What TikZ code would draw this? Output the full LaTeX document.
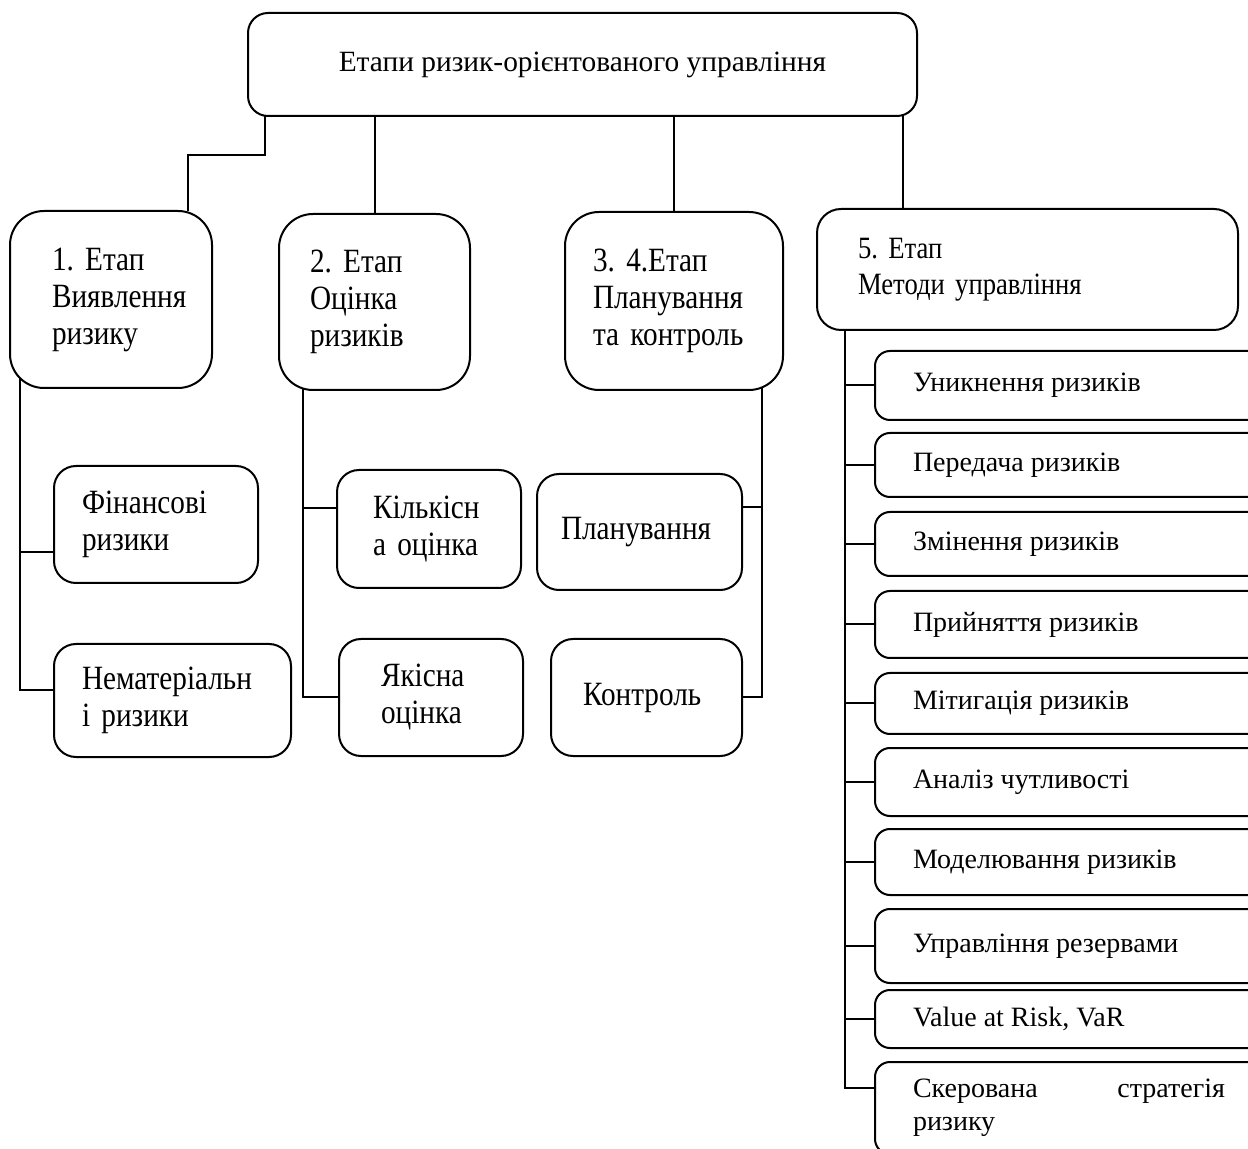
\documentclass[tikz,border=0pt]{standalone}
\usepackage{fontspec}
\setmainfont{Liberation Serif}
\newfontfamily\narrowfont{Liberation Serif}[FakeStretch=0.86, WordSpace=0.8]
\frenchspacing

\begin{document}
\begin{tikzpicture}[x=0.5pt, y=-0.5pt,
    box/.style={draw, line width=1pt, outer sep=0pt, anchor=north west, align=left,
        font=\narrowfont\fontsize{17}{18.5}\selectfont},
    stage/.style={box, rounded corners=17pt},
    sub/.style={box, rounded corners=11pt},
    item/.style={box, rounded corners=7.5pt, inner xsep=19pt, text width=156pt,
        align=justify, font=\rmfamily\fontsize{14}{16.5}\selectfont},
    link/.style={line width=1pt}]

        \useasboundingbox (0,0) rectangle (1248,1149);
        \clip (0,0) rectangle (1248,1149);

        % 1. Головний блок
        \node[box, rounded corners=10pt, align=center, minimum width=334.5pt, minimum height=51.5pt,
            font=\rmfamily\fontsize{14.7}{18}\selectfont]
            (title) at (248,13) {Етапи ризик-орієнтованого управління};

        % 2. Етапи
        \node[stage, inner xsep=21pt, text width=59pt, minimum height=88.5pt]
            (etap1) at (10,211) {1. Етап\\Виявлення\\ризику};
        \node[stage, inner xsep=15.5pt, text width=64.5pt, minimum height=88pt]
            (etap2) at (279,214) {2. Етап\\Оцінка\\ризиків};
        \node[stage, inner xsep=14pt, text width=81pt, minimum height=89pt]
            (etap34) at (565,212) {3. 4.Етап\\Планування\\та контроль};
        \node[stage, rounded corners=12pt, inner xsep=20.5pt, text width=169.5pt, minimum height=60.5pt,
            font=\narrowfont\fontsize{15.5}{18}\selectfont]
            (etap5) at (817,209) {5. Етап\\Методи управління};

        % 3. Підблоки етапів 1--4
        \node[sub, inner xsep=14pt, text width=74pt, minimum height=58.5pt]
            (fin) at (54,466) {Фінансові\\ризики};
        \node[sub, inner xsep=14pt, text width=90.5pt, minimum height=56.5pt]
            (nemat) at (54,644) {Нематеріальн\\і ризики};
        \node[sub, inner xsep=18pt, text width=56pt, minimum height=59pt]
            (kilk) at (337,470) {Кількісн\\а оцінка};
        \node[sub, inner xsep=21pt, text width=50pt, minimum height=58.5pt]
            (yak) at (339,639) {Якісна\\оцінка};
        \node[sub, inner xsep=12pt, text width=78.5pt, minimum height=58pt]
            (plan) at (537,474) {Планування};
        \node[sub, inner xsep=16pt, text width=63.5pt, minimum height=58.5pt]
            (kontrol) at (551,639) {Контроль};

        % 4. Методи управління (етап 5)
        \foreach \i/\top/\h/\txt in {1/351/34.5/Уникнення ризиків, 2/433/32/Передача ризиків,
                3/512/32/Змінення ризиків, 4/591/33.5/Прийняття ризиків,
                5/673/30.5/Мітигація ризиків, 6/748/34/Аналіз чутливості,
                7/829/33/Моделювання ризиків, 8/909/37/Управління резервами,
                {9/990/29/Value at Risk, VaR}, 10/1062/46/Скерована стратегія ризику} {
            \node[item, minimum height=\h pt] (m\i) at (875,\top) {\txt};
        }

        % 5. Зв'язки від головного блоку
        \draw[link] (title.south west) ++(17,0) -- ++(0,39) -| ([xshift=-12pt]etap1.north east);
        \draw[link] (etap2.north) -- (etap2.north |- title.south);
        \draw[link] (etap34.north) -- (etap34.north |- title.south);
        \coordinate (t5) at ([xshift=-7pt]title.south east);
        \draw[link] (t5) -- (t5 |- etap5.north);

        % 6. Зв'язки до підблоків
        \coordinate (r1) at ([xshift=5pt,yshift=5pt]etap1.south west);
        \draw[link] (r1) |- ([yshift=5pt]nemat.west);
        \draw[link] ([yshift=-13.75pt]fin.west) -| (r1);

        \coordinate (r2) at ([xshift=12pt,yshift=0.5pt]etap2.south west);
        \draw[link] (r2) |- (yak.west);
        \draw[link] ([yshift=10.5pt]kilk.west) -| (r2);

        \coordinate (r3) at ([xshift=-10.5pt,yshift=1.3pt]etap34.south east);
        \draw[link] (r3) |- (kontrol.east);
        \draw[link] ([yshift=12.5pt]plan.east) -| (r3);

        \coordinate (r5) at ([xshift=14pt]etap5.south west);
        \draw[link] (r5) |- ([yshift=10pt]m10.west);
        \foreach \i in {1,...,9} {
            \draw[link] (m\i.west) -| (r5);
        }

    \end{tikzpicture}
\end{document}
